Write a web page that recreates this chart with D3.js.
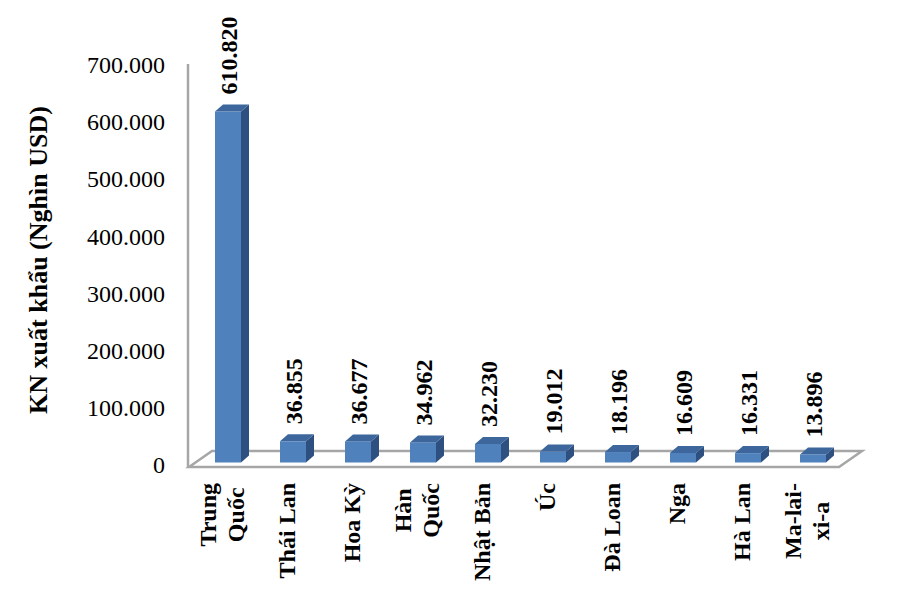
<!DOCTYPE html>
<html>
<head>
<meta charset="utf-8">
<script src="https://cdn.jsdelivr.net/npm/d3@7"></script>
<style>
  body { margin: 0; background: #fff; }
  svg text { font-family: "Liberation Serif", "Times New Roman", serif; fill: #000; }
</style>
</head>
<body>
<svg id="chart" width="900" height="597"></svg>
<script>
// data (values in Nghìn USD)
const categories = [["Trung", "Quốc"], ["Thái Lan"], ["Hoa Kỳ"], ["Hàn", "Quốc"], ["Nhật Bản"],
                    ["Úc"], ["Đà Loan"], ["Nga"], ["Hà Lan"], ["Ma-lai-", "xi-a"]];
const values = [610820, 36855, 36677, 34962, 32230, 19012, 18196, 16609, 16331, 13896];
const tickValues = [0, 100000, 200000, 300000, 400000, 500000, 600000, 700000];
const yTitle = "KN xuất khẩu (Nghìn USD)";

const svg = d3.select("#chart");

// vietnamese number format: 610.820
const vn = d3.formatLocale({ decimal: ",", thousands: ".", grouping: [3], currency: ["", ""] });
const fmt = vn.format(",d");

const floorLeft = 189, floorRight = 839, floorFront = 467;
const depthDx = 23, depthDy = 16;   // floor depth
const barDx = 8, barDy = 7;         // bar depth

const keys = categories.map(c => c.join(" "));
const x = d3.scaleBand().domain(keys).range([floorLeft, floorRight]).padding(0);
const y = d3.scaleLinear().domain([0, 700000]).range([465, 65]);
// bars sit half way back on the floor
const yBar = d3.scaleLinear().domain([0, 700000]).range([462.5, 60.3]);

// floor
svg.append("polygon")
  .attr("points", [[floorLeft, floorFront], [floorLeft + depthDx, floorFront - depthDy],
                   [floorRight + depthDx, floorFront - depthDy], [floorRight, floorFront]].join(" "))
  .attr("fill", "#fff")
  .attr("stroke", "#a6a6a6")
  .attr("stroke-width", 2.5);

// value axis line
svg.append("line")
  .attr("x1", 188).attr("x2", 188)
  .attr("y1", 64).attr("y2", floorFront)
  .attr("stroke", "#a6a6a6")
  .attr("stroke-width", 2.5);

const yAxis = svg.append("g")
  .attr("transform", "translate(188,0)")
  .call(d3.axisLeft(y).tickValues(tickValues).tickFormat(fmt).tickSize(0).tickPadding(23));
yAxis.select(".domain").remove();
yAxis.selectAll("text")
  .style("font-family", "'Liberation Serif', 'Times New Roman', serif")
  .style("font-size", "24px")
  .attr("fill", "#000");

// bars
const data = keys.map((k, i) => ({ key: k, lines: categories[i], value: values[i] }));
const bw = x.bandwidth() * 0.4;
const bx = d => x(d.key) + x.bandwidth() * 0.4;

const bars = svg.append("g").selectAll("g").data(data).enter().append("g");

bars.append("rect")
  .attr("x", d => bx(d))
  .attr("y", d => yBar(d.value))
  .attr("width", bw)
  .attr("height", d => yBar(0) - yBar(d.value))
  .attr("fill", "#4f81bd");

bars.append("polygon")
  .attr("points", d => {
    const x0 = bx(d) + bw, t = yBar(d.value), b = yBar(0);
    return [[x0, t], [x0 + barDx, t - barDy], [x0 + barDx, b - barDy], [x0, b]].join(" ");
  })
  .attr("fill", "#2e5080");

bars.append("polygon")
  .attr("points", d => {
    const x0 = bx(d), t = yBar(d.value);
    return [[x0, t], [x0 + barDx, t - barDy], [x0 + bw + barDx, t - barDy], [x0 + bw, t]].join(" ");
  })
  .attr("fill", "#3d679c");

// value labels
bars.append("text")
  .attr("transform", d => `translate(${bx(d) + bw / 2 + 1},${yBar(d.value) - 17}) rotate(-90)`)
  .attr("dy", "0.35em")
  .attr("text-anchor", "start")
  .style("font-size", "24px")
  .style("font-weight", "bold")
  .text(d => fmt(d.value));

// category labels, rotated, lines centred in their block
const lineH = 28;
const cat = svg.append("g").selectAll("g").data(data).enter().append("g")
  .attr("transform", d => `translate(${x(d.key) + x.bandwidth() / 2},483) rotate(-90)`);

cat.each(function(d) {
  const g = d3.select(this);
  const texts = d.lines.map((line, j) => g.append("text")
    .attr("y", (j - (d.lines.length - 1) / 2) * lineH)
    .attr("dy", "0.35em")
    .attr("text-anchor", "middle")
    .style("font-size", "24px")
    .style("font-weight", "bold")
    .text(line));
  const maxLen = d3.max(texts, t => t.node().getComputedTextLength());
  texts.forEach(t => t.attr("x", -maxLen / 2));
});

// axis title
svg.append("text")
  .attr("transform", "translate(38,260) rotate(-90)")
  .attr("dy", "0.35em")
  .attr("text-anchor", "middle")
  .style("font-size", "26px")
  .style("font-weight", "bold")
  .text(yTitle);
</script>
</body>
</html>
